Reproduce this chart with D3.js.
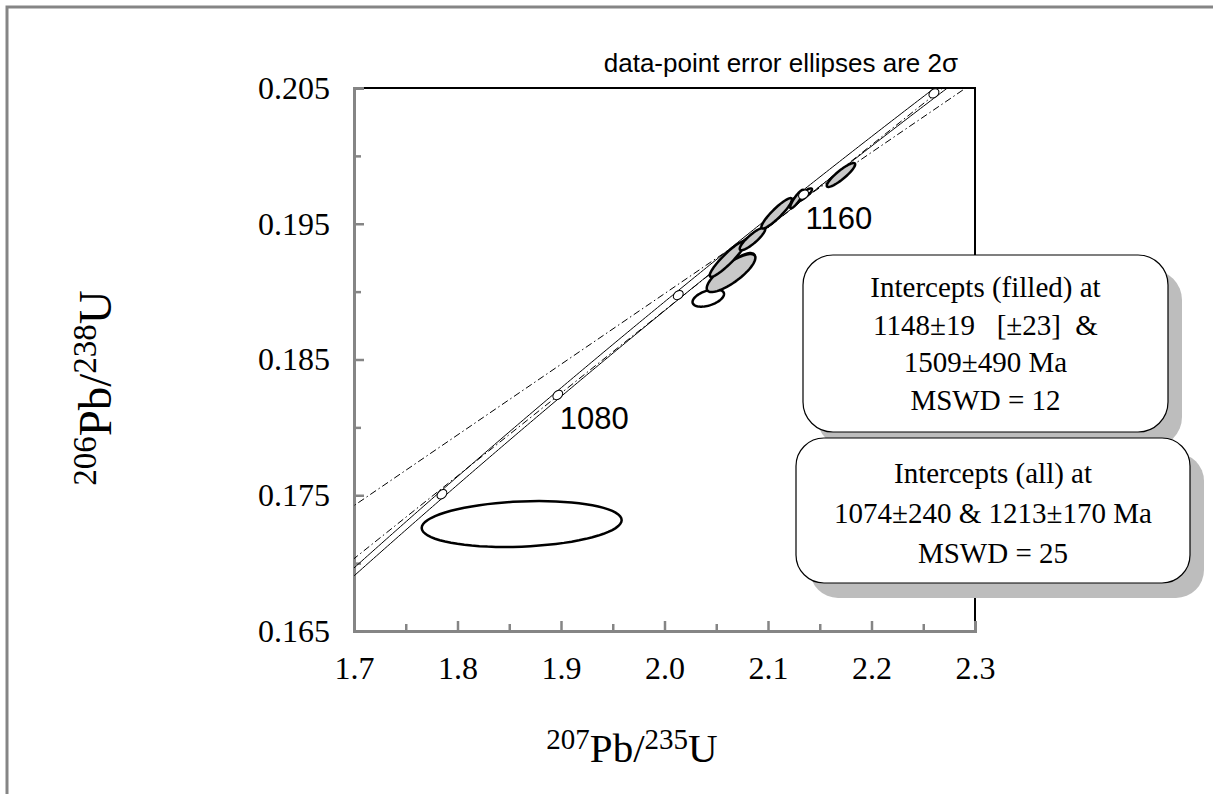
<!DOCTYPE html>
<html>
<head>
<meta charset="utf-8">
<title>concordia</title>
<script src="https://d3js.org/d3.v7.min.js"></script>
<style>
  body { margin: 0; background: #fff; }
  svg { display: block; }
</style>
</head>
<body>
<script>
// axis ticks
var xTicks = [1.7, 1.8, 1.9, 2.0, 2.1, 2.2, 2.3]
var xMinor = [1.75, 1.85, 1.95, 2.05, 2.15, 2.25]
var yTicks = [0.165, 0.175, 0.185, 0.195, 0.205]
var yMinor = [0.17, 0.18, 0.19, 0.20]

// concordia age marks (Ma) and which ones get a label
var markerAges = [1040, 1080, 1120, 1160, 1200]
var labelAges = [1080, 1160]

// discordia intercept ages (Ma)
var filledIntercepts = [1148, 1509]
var allIntercepts = [1074, 1213]

// data-point error ellipses: centre, 2-sigma half widths, correlation
var ellX   = [1.862, 2.0423, 2.0700, 2.1348, 2.1725, 2.0643, 2.0609, 2.0850, 2.1084, 2.1280, 2.1705]
var ellSx  = [0.0966, 0.0152, 0.0174, 0.0077, 0.0106, 0.0235, 0.0172, 0.0123, 0.0148, 0.0065, 0.0137]
var ellY   = [0.17288, 0.18953, 0.19174, 0.19712, 0.19870, 0.19137, 0.19240, 0.19388, 0.19577, 0.19682, 0.19859]
var ellSy  = [0.00169, 0.00064, 0.00110, 0.00048, 0.00066, 0.00140, 0.00131, 0.00083, 0.00112, 0.00068, 0.00088]
var ellRho = [0.17, 0.46, 0.75, 0.85, 0.97, 0.80, 0.92, 0.87, 0.91, 0.88, 0.89]
var ellFilled = [false, false, false, false, false, true, true, true, true, true, true]

// result boxes
var filledText = ["Intercepts (filled) at", "1148\u00b119   [\u00b123]  &", "1509\u00b1490 Ma", "MSWD = 12"]
var allText = ["Intercepts (all) at", "1074\u00b1240 & 1213\u00b1170 Ma", "MSWD = 25"]

// decay constants, per Ma
var L238 = 1.55125e-4
var L235 = 9.8485e-4

var width = 1213
var height = 794
var serif = "'Liberation Serif', 'Times New Roman', serif"
var sans = "'Liberation Sans', Arial, sans-serif"
var grey = "#858585"

var svg = d3.select("body").append("svg")
    .attr("width", width)
    .attr("height", height)

// outer frame
svg.append("rect")
    .attr("x", 7).attr("y", 7)
    .attr("width", 1300).attr("height", 900)
    .attr("fill", "none")
    .attr("stroke", grey)
    .attr("stroke-width", 3)

var x = d3.scaleLinear().domain([1.7, 2.3]).range([354, 975])
var y = d3.scaleLinear().domain([0.165, 0.205]).range([631, 88])

function conc(t, l235) {
    return [Math.exp(l235 * t) - 1, Math.exp(L238 * t) - 1]
}

svg.append("clipPath").attr("id", "plot")
    .append("rect")
    .attr("x", x(1.7)).attr("y", y(0.205))
    .attr("width", x(2.3) - x(1.7)).attr("height", y(0.165) - y(0.205))

// top and right border
svg.append("path")
    .attr("d", "M" + x(1.7) + "," + y(0.205) + "H" + x(2.3) + "V" + y(0.165))
    .attr("fill", "none")
    .attr("stroke", "#000")
    .attr("stroke-width", 2)

// axes: minor ticks first, then major with labels
function styleAxis(g) {
    g.select(".domain").attr("stroke", grey).attr("stroke-width", 3)
    g.selectAll(".tick line").attr("stroke", grey).attr("stroke-width", 2.5)
    g.selectAll("text").attr("font-family", serif).attr("font-size", 32).attr("fill", "#000")
}

svg.append("g").attr("transform", "translate(0," + y(0.165) + ")")
    .call(d3.axisBottom(x).tickValues(xMinor).tickSize(-7).tickFormat(""))
    .call(styleAxis)
svg.append("g").attr("transform", "translate(0," + y(0.165) + ")")
    .call(d3.axisBottom(x).tickValues(xTicks).tickSize(-10).tickPadding(25).tickFormat(d3.format(".1f")))
    .call(styleAxis)
svg.append("g").attr("transform", "translate(" + x(1.7) + ",0)")
    .call(d3.axisLeft(y).tickValues(yMinor).tickSize(-7).tickFormat(""))
    .call(styleAxis)
svg.append("g").attr("transform", "translate(" + x(1.7) + ",0)")
    .call(d3.axisLeft(y).tickValues(yTicks).tickSize(-10).tickPadding(24).tickFormat(d3.format(".3f")))
    .call(styleAxis)

// axis titles with superscript mass numbers
function isoTitle(g, a, b, big, small, up) {
    var t = g.append("text").attr("font-family", serif).attr("text-anchor", "middle")
    t.append("tspan").attr("font-size", small).attr("dy", -up).text(a)
    t.append("tspan").attr("font-size", big).attr("dy", up).text("Pb/")
    t.append("tspan").attr("font-size", small).attr("dy", -up).text(b)
    t.append("tspan").attr("font-size", big).attr("dy", up).text("U")
}
isoTitle(svg.append("g").attr("transform", "translate(632,762)"), "207", "235", 41, 29, 13)
isoTitle(svg.append("g").attr("transform", "translate(111,388) rotate(-90)"), "206", "238", 47, 33, 15)

var plot = svg.append("g").attr("clip-path", "url(#plot)")
var line = d3.line().x(function(d) { return x(d[0]) }).y(function(d) { return y(d[1]) })

// concordia band from the uncertainty on the 235U decay constant
var ages = d3.range(980, 1220, 1)
;[L235 * (1 - 0.0016), L235 * (1 + 0.0016)].forEach(function(l) {
    plot.append("path")
        .attr("d", line(ages.map(function(t) { return conc(t, l) })))
        .attr("fill", "none")
        .attr("stroke", "#000")
        .attr("stroke-width", 1)
})

// discordia lines through the two intercepts
;[filledIntercepts, allIntercepts].forEach(function(ia) {
    var p1 = conc(ia[0], L235), p2 = conc(ia[1], L235)
    var m = (p2[1] - p1[1]) / (p2[0] - p1[0])
    var ends = [1.6, 2.4].map(function(v) { return [v, p1[1] + m * (v - p1[0])] })
    plot.append("path")
        .attr("d", line(ends))
        .attr("fill", "none")
        .attr("stroke", "#000")
        .attr("stroke-width", 1)
        .attr("stroke-dasharray", "7,3,1.5,3")
})

// error ellipses, open ones underneath
function ellipsePath(i) {
    var pts = d3.range(0, 72).map(function(k) {
        var th = k / 72 * 2 * Math.PI
        return [ellX[i] + ellSx[i] * Math.cos(th),
                ellY[i] + ellSy[i] * (ellRho[i] * Math.cos(th) + Math.sqrt(1 - ellRho[i] * ellRho[i]) * Math.sin(th))]
    })
    return line.curve(d3.curveLinearClosed)(pts)
}
var order = d3.range(ellX.length).sort(function(a, b) { return ellFilled[a] - ellFilled[b] })
plot.selectAll("path.ell").data(order).enter().append("path")
    .attr("class", "ell")
    .attr("d", ellipsePath)
    .attr("fill", function(i) { return ellFilled[i] ? "#c8c8c8" : "none" })
    .attr("stroke", "#000")
    .attr("stroke-width", 2.5)
line.curve(d3.curveLinear)

// concordia age markers
markerAges.forEach(function(t) {
    var p = conc(t, L235)
    var dx = L235 * Math.exp(L235 * t) * (x(1) - x(0))
    var dy = L238 * Math.exp(L238 * t) * (y(1) - y(0))
    var ang = Math.atan2(dy, dx) * 180 / Math.PI
    plot.append("ellipse")
        .attr("transform", "translate(" + x(p[0]) + "," + y(p[1]) + ") rotate(" + ang + ")")
        .attr("rx", 5.5).attr("ry", 4)
        .attr("fill", "#fff")
        .attr("stroke", "#000")
        .attr("stroke-width", 1)
})
labelAges.forEach(function(t) {
    var p = conc(t, L235)
    svg.append("text")
        .attr("x", x(p[0]) + 2).attr("y", y(p[1]) + 34)
        .attr("font-family", sans).attr("font-size", 31)
        .text(t)
})

// result boxes with drop shadow
function resultBox(x0, y0, w, h, r, lines, cy, step) {
    svg.append("rect")
        .attr("x", x0 + 14).attr("y", y0 + 15).attr("width", w).attr("height", h)
        .attr("rx", r).attr("fill", "#bdbdbd")
    svg.append("rect")
        .attr("x", x0).attr("y", y0).attr("width", w).attr("height", h)
        .attr("rx", r).attr("fill", "#fff").attr("stroke", "#000").attr("stroke-width", 1.2)
    svg.selectAll(null).data(lines).enter().append("text")
        .attr("x", x0 + w / 2).attr("y", function(d, i) { return cy + i * step })
        .attr("text-anchor", "middle")
        .attr("font-family", serif).attr("font-size", 29)
        .style("white-space", "pre")
        .text(function(d) { return d })
}
resultBox(803, 255, 365, 177, 30, filledText, 297, 37.5)
resultBox(796, 438, 394, 145, 28, allText, 483, 40)

svg.append("text")
    .attr("x", 958).attr("y", 72)
    .attr("text-anchor", "end")
    .attr("font-family", sans).attr("font-size", 26)
    .text("data-point error ellipses are 2\u03c3")
</script>
</body>
</html>
